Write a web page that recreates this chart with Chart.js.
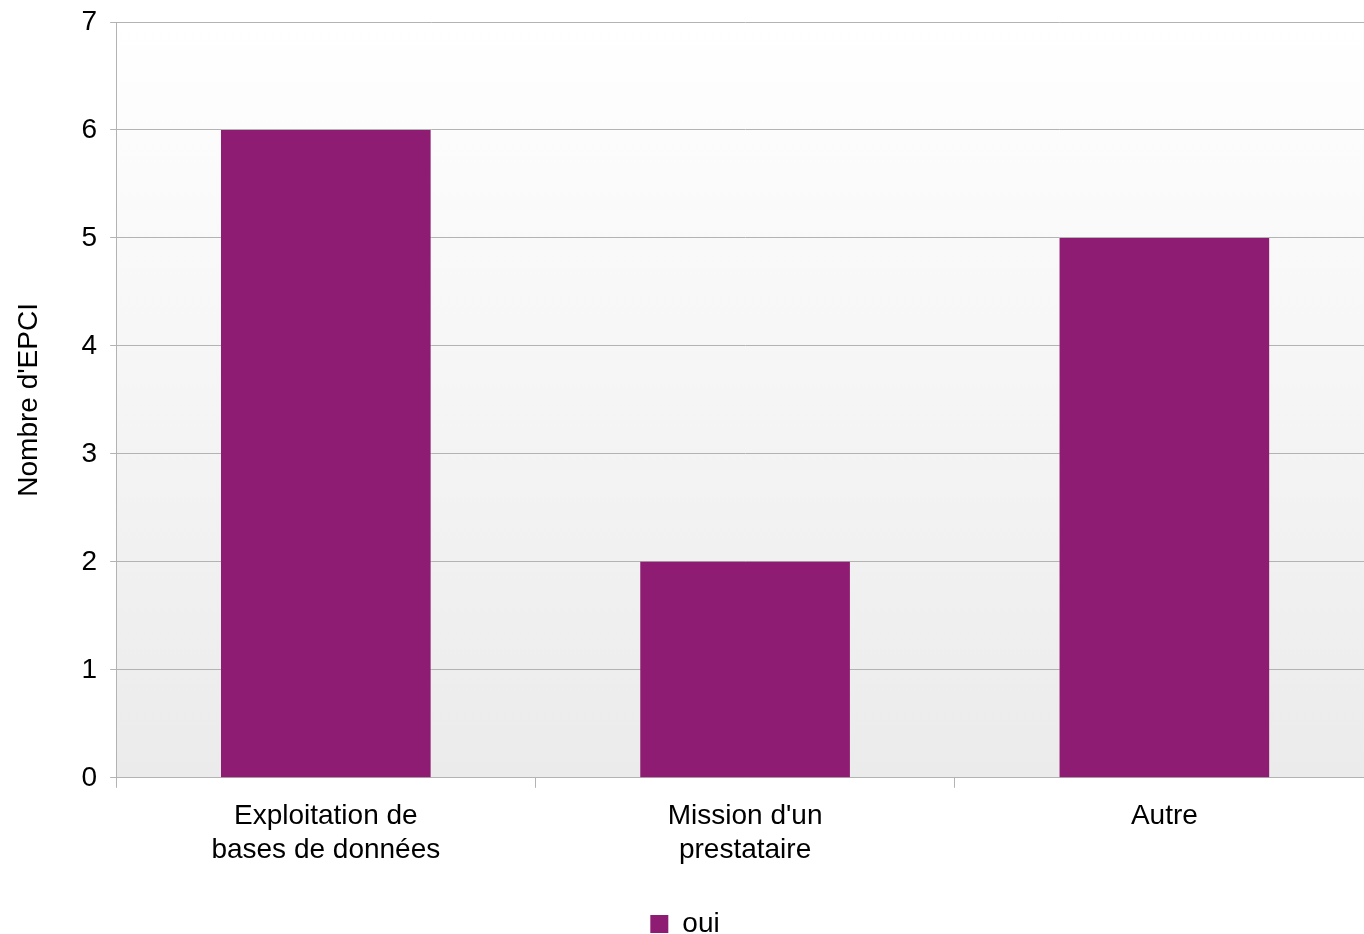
<!DOCTYPE html>
<html>
<head>
<meta charset="utf-8">
<script src="https://cdn.jsdelivr.net/npm/chart.js@4/dist/chart.umd.min.js"></script>
<style>
  html, body { margin: 0; padding: 0; background: #fff; overflow: hidden; }
  /* the plot runs a little past the right edge of the window */
  #wrap { width: 1374px; height: 934px; }
</style>
</head>
<body>
<div id="wrap"><canvas id="barchart"></canvas></div>
<script>
const categories = [['Exploitation de', 'bases de données'], ["Mission d'un", 'prestataire'], 'Autre'];
const ouiValues = [6, 2, 5];
const yTicks = [0, 1, 2, 3, 4, 5, 6, 7];

const barColor = '#8d1c72';
const gridColor = '#b3b3b3';

// soft vertical gradient behind the bars
const plotBackground = {
    id: 'plotBackground',
    beforeDraw(chart) {
        const { ctx, chartArea: a } = chart;
        const g = ctx.createLinearGradient(0, a.top, 0, a.bottom);
        g.addColorStop(0, '#ffffff');
        g.addColorStop(1, '#ebebeb');
        ctx.save();
        ctx.fillStyle = g;
        ctx.fillRect(a.left, a.top, a.right - a.left, a.bottom - a.top);
        ctx.restore();
    }
};

// keep the legend centred on the visible part of the canvas
const legendNudge = {
    id: 'legendNudge',
    afterLayout(chart) {
        chart.legend.left -= 8;
        chart.legend.right -= 8;
    }
};

Chart.defaults.font.family = '"Liberation Sans", Arial, sans-serif';
Chart.defaults.color = '#000';

new Chart(document.getElementById('barchart'), {
    type: 'bar',
    data: {
        labels: categories,
        datasets: [{
            label: 'oui',
            data: ouiValues,
            backgroundColor: barColor,
            borderWidth: 0,
            barPercentage: 0.5,
            categoryPercentage: 1
        }]
    },
    options: {
        responsive: true,
        maintainAspectRatio: false,
        animation: false,
        // the legend hugs the bottom edge, hence the negative bottom padding
        layout: { padding: { top: 22, right: 0, left: 12, bottom: -14 } },
        plugins: {
            tooltip: { enabled: false },
            legend: {
                position: 'bottom',
                labels: {
                    font: { size: 28 },
                    boxWidth: 18,
                    boxHeight: 18,
                    padding: 31
                }
            }
        },
        scales: {
            x: {
                grid: {
                    offset: true,
                    drawOnChartArea: false,
                    color: gridColor,
                    tickLength: 10
                },
                border: { color: gridColor, width: 1 },
                ticks: { font: { size: 28, lineHeight: 1.2 }, padding: 12, maxRotation: 0 }
            },
            y: {
                min: 0,
                max: 7,
                afterBuildTicks(axis) {
                    axis.ticks = yTicks.map(v => ({ value: v }));
                },
                grid: { color: gridColor, tickLength: 6 },
                border: { color: gridColor, width: 1 },
                // small lineHeight keeps the top label from pushing the plot down
                ticks: { font: { size: 28, lineHeight: 0.6 }, padding: 13 },
                title: {
                    display: true,
                    text: "Nombre d'EPCI",
                    font: { size: 28 },
                    padding: { top: 0, bottom: 23 }
                }
            }
        }
    },
    plugins: [plotBackground, legendNudge]
});
</script>
</body>
</html>
